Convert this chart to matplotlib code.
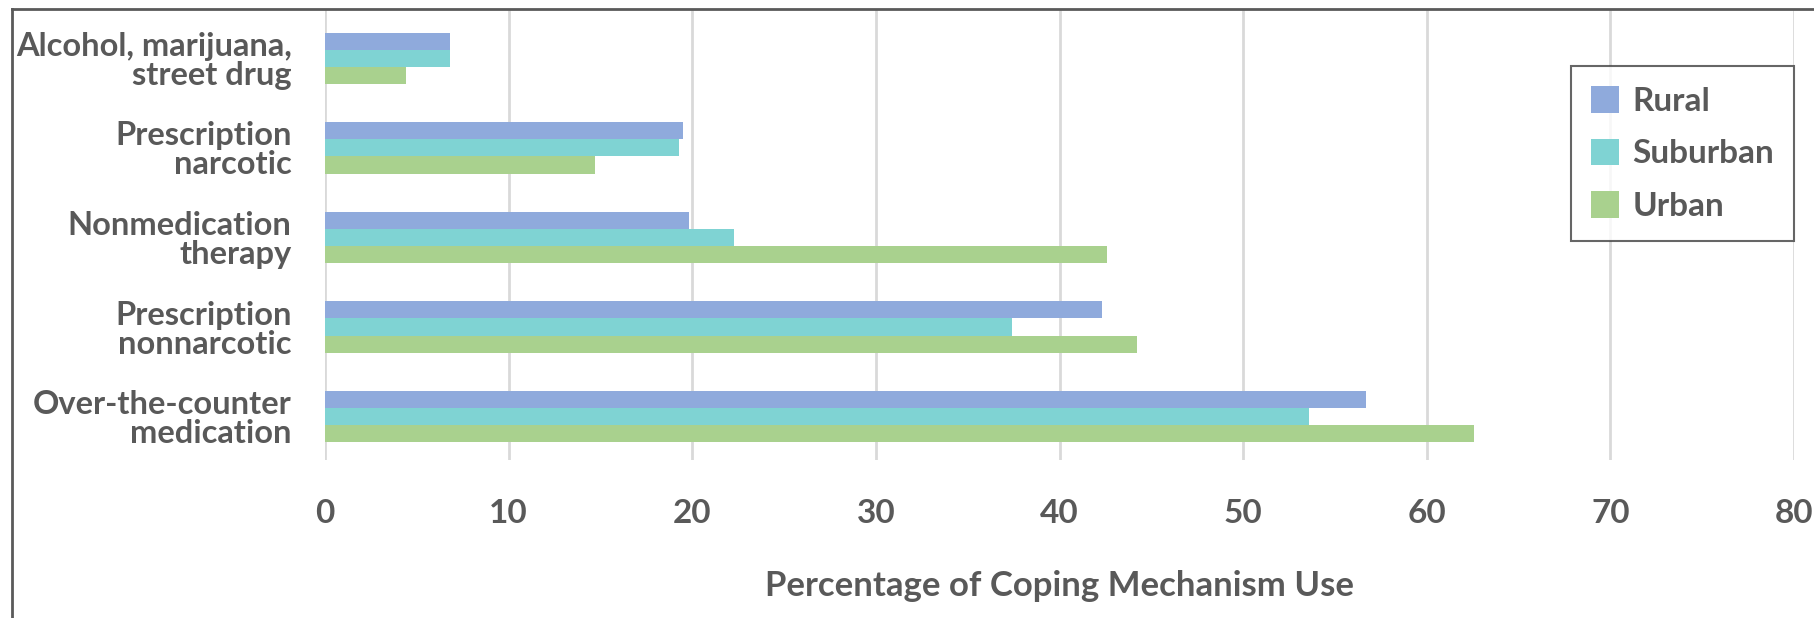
import matplotlib.pyplot as plt
import numpy as np
from matplotlib.lines import Line2D

plt.rcParams['font.family'] = ['Lato', 'DejaVu Sans']
plt.rcParams['font.weight'] = 'bold'

categories = ['Alcohol, marijuana,\nstreet drug',
              'Prescription\nnarcotic',
              'Nonmedication\ntherapy',
              'Prescription\nnonnarcotic',
              'Over-the-counter\nmedication']
rural = [6.8, 19.5, 19.8, 42.3, 56.7]
suburban = [6.8, 19.3, 22.3, 37.4, 53.6]
urban = [4.4, 14.7, 42.6, 44.2, 62.6]
series_names = ['Rural', 'Suburban', 'Urban']
colors = ['#8FAADC', '#7FD3D3', '#A9D18E']
xticks = [0, 10, 20, 30, 40, 50, 60, 70, 80]

txt = '#595959'
W, H = 1814, 618

fig = plt.figure(figsize=(W / 100, H / 100), dpi=100)
ax = fig.add_axes([325 / W, 1 - 460 / H, (1794 - 325) / W, (460 - 9) / H])

y = np.arange(len(categories))
h = 0.19
for i, (vals, name, c) in enumerate(zip([rural, suburban, urban], series_names, colors)):
    ax.barh(y + (i - 1) * h, vals, height=h, color=c, label=name, zorder=3)

ax.set_xlim(0, 80)
ax.set_ylim(4.486, -0.553)
ax.set_xticks(xticks)
ax.set_yticks(y)
ax.set_yticklabels(categories, ha='right', linespacing=1.0)
ax.tick_params(axis='y', length=0, pad=24, labelsize=23.5, labelcolor=txt)
ax.tick_params(axis='x', length=0, pad=28, labelsize=24, labelcolor=txt)
ax.grid(axis='x', color='#D9D9D9', linewidth=2, zorder=0)
for s in ax.spines.values():
    s.set_visible(False)

ax.set_xlabel('Percentage of Coping Mechanism Use', fontsize=25, color=txt,
              fontweight='bold', labelpad=30)

leg = ax.legend(loc='upper right', bbox_to_anchor=(1794 / W, 1 - 66 / H),
                bbox_transform=fig.transFigure, fontsize=24, frameon=True,
                fancybox=False, edgecolor='#404040', handlelength=0.85,
                handleheight=0.85, labelspacing=0.68, handletextpad=0.4,
                borderpad=0.6, borderaxespad=0)
leg.get_frame().set_linewidth(1.5)
for t in leg.get_texts():
    t.set_color(txt)

# outer frame (top and left only, rest cropped off)
fig.add_artist(Line2D([12 / W, 12 / W], [0, 1 - 9 / H], color='#5A5A5A',
                      linewidth=2, transform=fig.transFigure))
fig.add_artist(Line2D([12 / W, 1], [1 - 9 / H, 1 - 9 / H], color='#5A5A5A',
                      linewidth=2, transform=fig.transFigure))

fig.savefig('out.png', dpi=100)
